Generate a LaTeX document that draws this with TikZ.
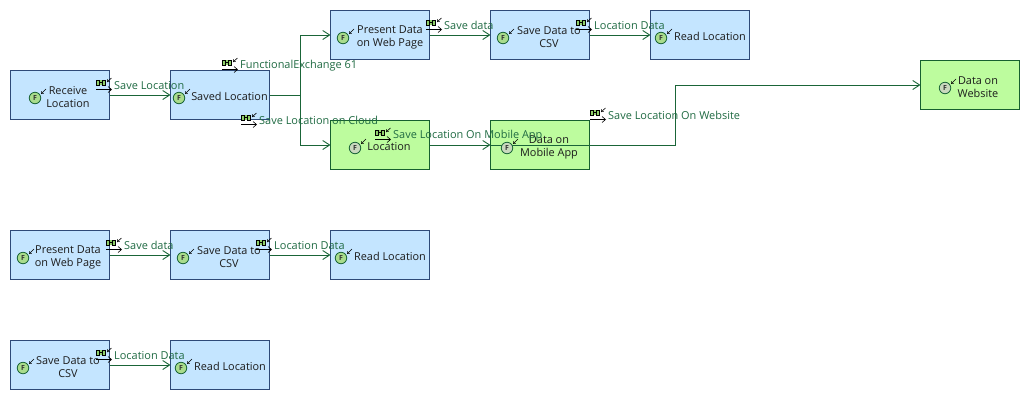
\documentclass[tikz,border=0pt]{standalone}
\usepackage{fontspec}
\setmainfont{Open Sans}
\usetikzlibrary{arrows.meta}
\definecolor{bluefill}{HTML}{C4E5FF}
\definecolor{blueline}{HTML}{2E4A78}
\definecolor{greenfill}{HTML}{BDFC9E}
\definecolor{greenline}{HTML}{17602F}
\definecolor{flowcol}{HTML}{1A6538}
\definecolor{labcol}{HTML}{1F6A42}
\definecolor{txtcol}{HTML}{1C1C1C}
\definecolor{fnfill}{HTML}{A9DC8C}
\definecolor{fnfillb}{HTML}{C9D9BE}
\definecolor{excfill}{HTML}{8FD06A}
\tikzset{
  x=1pt,y=-1pt,
  fnbox/.style={draw=blueline,fill=bluefill,line width=.9pt,minimum width=99pt,minimum height=49pt,inner sep=0pt,outer sep=0pt,anchor=north west},
  datbox/.style={draw=greenline,fill=greenfill,line width=.9pt,minimum width=99pt,minimum height=49pt,inner sep=0pt,outer sep=0pt,anchor=north west},
  boxtext/.style={font=\fontsize{10.9}{13}\selectfont,text=txtcol,align=center,inner sep=0pt,yshift=-.7pt},
  exlabel/.style={font=\fontsize{10.95}{12}\selectfont,text=labcol,anchor=west,inner sep=0pt,yshift=-.7pt},
  flow/.style={draw=flowcol,line width=1pt,-{Straight Barb[length=7pt,width=9pt,line width=.9pt]}},
  fncirc/.style={circle,draw=flowcol,line width=.8pt,fill=#1,minimum size=11.5pt,inner sep=0pt,font=\fontsize{7}{7}\selectfont\bfseries,text=black!80},
  tick/.style={draw=black,line width=.6pt,-{Straight Barb[length=2pt,width=3.5pt,line width=.5pt]}},
}
% function icon with small reference arrow
\newcommand{\fnicon}[4][fnfill]{%
  \node[fncirc=#1] (#2) at (#3,#4) {F};
  \draw[tick] (#3+11,#4-9) -- (#3+6,#4-4);
}
% functional-exchange label: text with icon to the left of it
\newcommand{\exlab}[4]{%
  \node[exlabel] (#1) at (#2,#3) {#4};
  \fill[excfill] (#2-17.5,#3-5) rectangle (#2-9,#3);
  \draw[black,line width=.7pt] (#2-17.5,#3-5) rectangle (#2-14.5,#3) (#2-12,#3-5) rectangle (#2-9,#3);
  \draw[black,line width=.7pt] (#2-14.5,#3-2.5) -- (#2-12,#3-2.5);
  \draw[tick] (#2-2.5,#3-7) -- (#2-7,#3-3);
  \draw[draw=black,line width=.7pt,-{Straight Barb[length=3.5pt,width=6pt,line width=.6pt]}] (#2-18,#3+4.5) -- (#2-2,#3+4.5);
}
\begin{document}
\begin{tikzpicture}
\useasboundingbox[fill=white] (0,0) rectangle (1030,400);
% boxes
\node[fnbox] (recv) at (10.5,70.5) {};
\node[fnbox] (saved) at (170.5,70.5) {};
\node[fnbox] (pres) at (330.5,10.5) {};
\node[fnbox] (csv) at (490.5,10.5) {};
\node[fnbox] (read) at (650.5,10.5) {};
\node[datbox] (loc) at (330.5,120.5) {};
\node[datbox] (mob) at (490.5,120.5) {};
\node[datbox] (web) at (920.5,60.5) {};
\node[fnbox] (presb) at (10.5,230.5) {};
\node[fnbox] (csvb) at (170.5,230.5) {};
\node[fnbox] (readb) at (330.5,230.5) {};
\node[fnbox] (csvc) at (10.5,340.5) {};
\node[fnbox] (readc) at (170.5,340.5) {};
% connectors
\draw[flow] (recv.east) -- (saved.west);
\coordinate (split) at (300,95);
\draw[flow] (saved.east) -- (split) |- (pres.west);
\draw[flow] (saved.east) -- (split) |- (loc.west);
\draw[flow] (pres.east) -- (csv.west);
\draw[flow] (csv.east) -- (read.west);
\draw[flow] (loc.east) -- (mob.west);
\coordinate (bend) at (675,145);
\draw[flow] (mob.west) -- (bend) |- (web.west);
\draw[flow] (presb.east) -- (csvb.west);
\draw[flow] (csvb.east) -- (readb.west);
\draw[flow] (csvc.east) -- (readc.west);
% function icons
\fnicon{fa}{35}{98}
\fnicon{fb}{179}{98}
\fnicon{fc}{343}{38}
\fnicon{fd}{503}{38}
\fnicon{fe}{661}{38}
\fnicon[fnfillb]{ff}{355}{148}
\fnicon[fnfillb]{fg}{507}{148}
\fnicon[fnfillb]{fh}{945}{88}
\fnicon{fi}{23}{258}
\fnicon{fj}{183}{258}
\fnicon{fk}{341}{258}
\fnicon{fl}{23}{368}
\fnicon{fm}{181}{368}
% box texts
\node[boxtext] (ta) at (68,96.5) {Receive\\Location};
\node[boxtext] (tb) at (229.5,96) {Saved Location};
\node[boxtext] (tc) at (390,36.5) {Present Data\\on Web Page};
\node[boxtext] (td) at (549,36.5) {Save Data to\\CSV};
\node[boxtext] (te) at (710,36) {Read Location};
\node[boxtext] (tf) at (389,146) {Location};
\node[boxtext] (tg) at (549,146.5) {Data on\\Mobile App};
\node[boxtext] (th) at (978,86.5) {Data on\\Website};
\node[boxtext] (ti) at (68,256.5) {Present Data\\on Web Page};
\node[boxtext] (tj) at (229,256.5) {Save Data to\\CSV};
\node[boxtext] (tk) at (390,256) {Read Location};
\node[boxtext] (tl) at (68,366.5) {Save Data to\\CSV};
\node[boxtext] (tm) at (230,366) {Read Location};
% exchange labels
\exlab{la}{114}{85}{Save Location}
\exlab{lb}{240}{65}{FunctionalExchange 61}
\exlab{lc}{259}{120}{Save Location on Cloud}
\exlab{ld}{444}{25}{Save data}
\exlab{le}{594}{25}{Location Data}
\exlab{lf}{393}{135}{Save Location On Mobile App}
\exlab{lg}{608}{115}{Save Location On Website}
\exlab{lh}{124}{245}{Save data}
\exlab{li}{274}{245}{Location Data}
\exlab{lj}{114}{355}{Location Data}
\end{tikzpicture}
\end{document}
